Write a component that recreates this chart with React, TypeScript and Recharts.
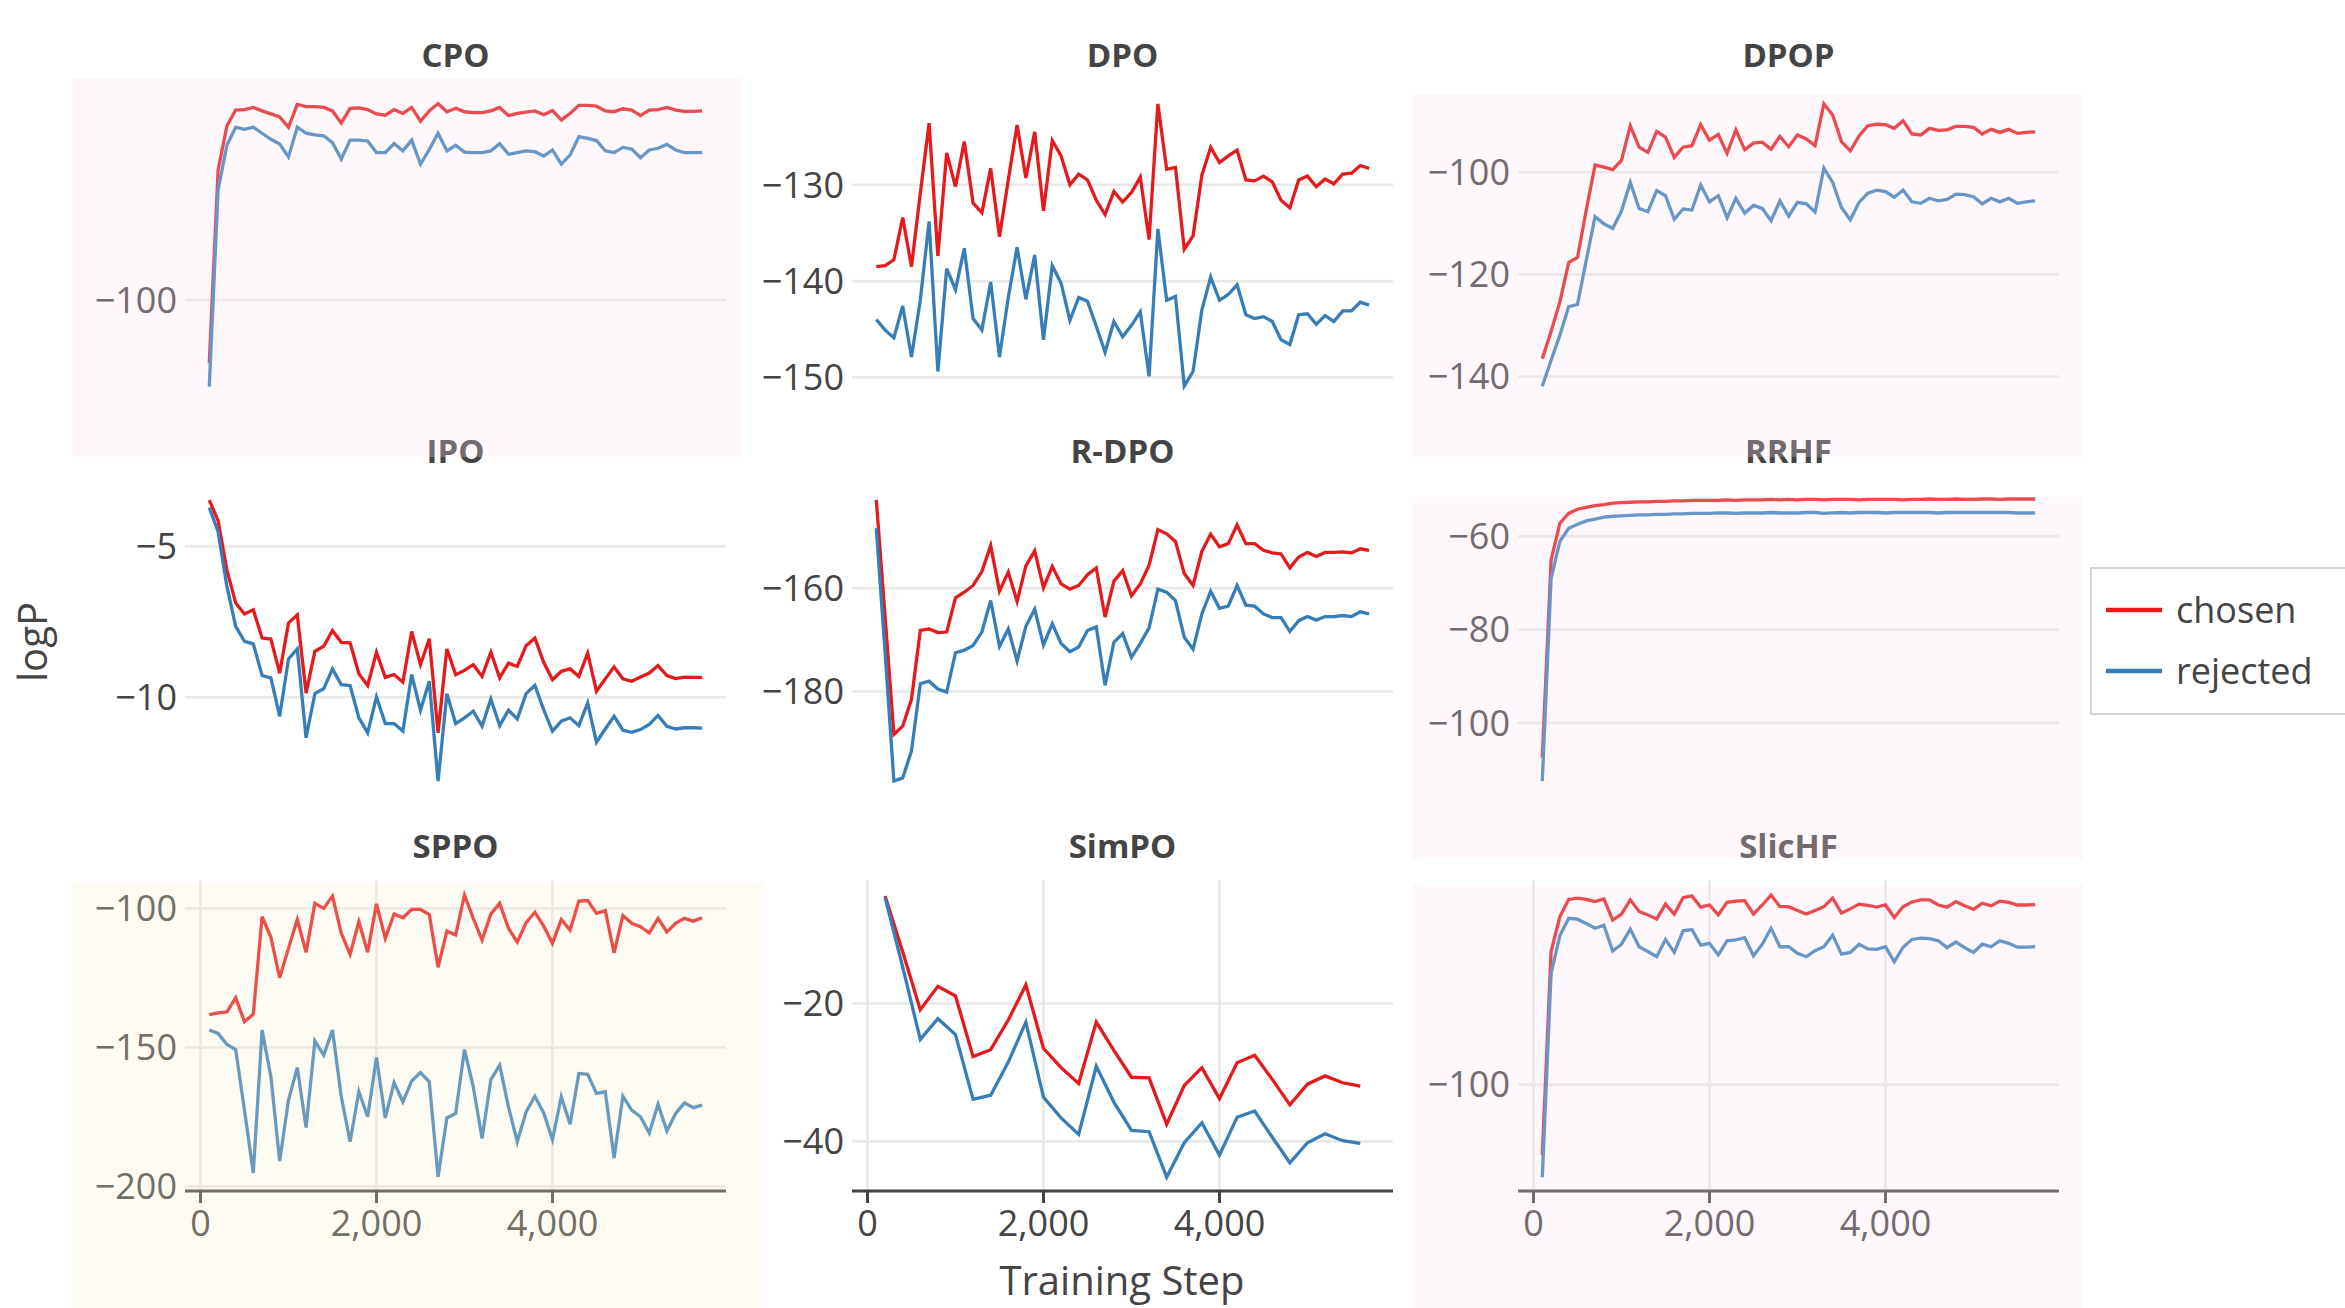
import React from 'react';
import { LineChart, Line, XAxis, YAxis, CartesianGrid } from 'recharts';

// ---------- data ----------
const steps = [100, 200, 300, 400, 500, 600, 700, 800, 900, 1000, 1100, 1200, 1300, 1400, 1500, 1600, 1700, 1800, 1900, 2000, 2100, 2200, 2300, 2400, 2500, 2600, 2700, 2800, 2900, 3000, 3100, 3200, 3300, 3400, 3500, 3600, 3700, 3800, 3900, 4000, 4100, 4200, 4300, 4400, 4500, 4600, 4700, 4800, 4900, 5000, 5100, 5200, 5300, 5400, 5500, 5600, 5700];
const simpoSteps = [200, 400, 600, 800, 1000, 1200, 1400, 1600, 1800, 2000, 2200, 2400, 2600, 2800, 3000, 3200, 3400, 3600, 3800, 4000, 4200, 4400, 4600, 4800, 5000, 5200, 5400, 5600];

const cpoChosen = [-114.7, -69.8, -59.5, -55.8, -55.7, -55.2, -56.0, -56.7, -57.4, -59.8, -54.5, -55.0, -55.0, -55.2, -56.0, -58.8, -55.4, -55.3, -55.7, -56.7, -57.0, -55.7, -56.6, -55.2, -58.4, -56.0, -54.3, -56.2, -55.4, -56.2, -56.4, -56.4, -56.0, -55.2, -57.1, -56.6, -56.3, -56.0, -56.9, -55.9, -58.1, -56.6, -54.7, -54.7, -54.9, -56.0, -56.2, -55.5, -55.8, -57.1, -55.8, -55.7, -55.2, -55.8, -56.1, -56.1, -56.0];
const cpoRejected = [-120.2, -74.4, -64.0, -59.8, -60.3, -59.8, -61.2, -62.6, -63.7, -66.7, -59.8, -61.2, -61.6, -61.8, -63.4, -67.2, -62.8, -62.8, -63.0, -65.7, -65.7, -63.6, -65.3, -62.8, -68.4, -65.0, -61.2, -65.3, -64.0, -65.6, -65.7, -65.7, -65.3, -63.6, -66.1, -65.7, -65.3, -65.5, -66.5, -65.1, -68.4, -66.3, -62.0, -62.4, -62.9, -65.3, -65.7, -64.5, -64.9, -66.9, -65.1, -64.7, -63.8, -65.1, -65.7, -65.7, -65.7];

const dpoChosen = [-138.5, -138.4, -137.8, -133.4, -138.5, -130.9, -123.6, -137.4, -126.7, -130.2, -125.5, -131.9, -132.9, -128.3, -135.4, -129.5, -123.8, -129.3, -124.5, -132.7, -125.4, -127.0, -130.0, -128.9, -129.5, -131.6, -133.1, -130.7, -131.8, -130.8, -129.2, -135.7, -121.6, -128.4, -128.2, -136.7, -135.3, -129.0, -126.1, -127.7, -127.0, -126.4, -129.5, -129.6, -129.1, -129.7, -131.6, -132.4, -129.5, -129.1, -130.2, -129.4, -129.9, -128.9, -128.8, -128.0, -128.3];
const dpoRejected = [-144.0, -145.1, -145.9, -142.6, -147.9, -142.0, -133.8, -149.4, -138.7, -140.9, -136.6, -143.9, -145.1, -140.1, -147.9, -141.7, -136.5, -141.9, -137.3, -146.1, -138.4, -140.2, -144.1, -141.7, -142.1, -144.7, -147.4, -144.2, -145.8, -144.6, -143.2, -149.9, -134.6, -142.0, -141.6, -150.9, -149.4, -143.0, -139.6, -142.0, -141.4, -140.4, -143.5, -143.9, -143.7, -144.2, -146.1, -146.6, -143.5, -143.4, -144.5, -143.6, -144.2, -143.1, -143.1, -142.2, -142.5];

const dpopChosen = [-136.5, -131.2, -125.4, -117.7, -116.7, -107.4, -98.6, -99.0, -99.5, -97.7, -90.9, -95.1, -96.1, -92.0, -93.1, -97.1, -95.1, -94.8, -90.7, -93.7, -92.6, -96.3, -91.7, -95.6, -94.3, -94.1, -95.5, -93.0, -95.0, -92.7, -93.5, -94.8, -86.6, -88.8, -94.0, -95.8, -92.9, -90.9, -90.6, -90.7, -91.4, -89.9, -92.5, -92.7, -91.4, -91.8, -91.7, -91.0, -91.0, -91.2, -92.5, -91.6, -92.2, -91.6, -92.4, -92.2, -92.1];
const dpopRejected = [-141.9, -136.8, -131.9, -126.3, -125.9, -117.2, -108.7, -110.1, -111.0, -107.6, -102.0, -107.1, -107.7, -103.6, -104.6, -109.2, -107.2, -107.4, -102.5, -105.8, -104.6, -108.9, -105.1, -108.0, -106.5, -107.1, -109.5, -105.6, -108.6, -105.9, -106.2, -107.8, -99.2, -102.0, -106.9, -109.3, -105.9, -104.1, -103.5, -103.8, -104.9, -103.5, -105.8, -106.1, -105.1, -105.6, -105.3, -104.3, -104.4, -104.8, -106.2, -105.1, -105.8, -105.1, -106.1, -105.8, -105.6];

const ipoChosen = [-3.47, -4.15, -5.78, -6.88, -7.24, -7.10, -8.04, -8.07, -9.20, -7.54, -7.27, -9.86, -8.48, -8.31, -7.79, -8.18, -8.20, -9.22, -9.61, -8.51, -9.34, -9.25, -9.50, -7.82, -8.92, -8.06, -11.18, -8.40, -9.25, -9.11, -8.92, -9.31, -8.51, -9.36, -8.87, -8.98, -8.29, -8.04, -8.84, -9.42, -9.14, -9.06, -9.31, -8.54, -9.80, -9.39, -9.00, -9.39, -9.47, -9.33, -9.20, -8.95, -9.28, -9.38, -9.33, -9.34, -9.34];
const ipoRejected = [-3.72, -4.52, -6.33, -7.65, -8.15, -8.23, -9.28, -9.36, -10.63, -8.73, -8.40, -11.34, -9.88, -9.72, -9.06, -9.58, -9.61, -10.68, -11.18, -9.99, -10.87, -10.87, -11.12, -9.25, -10.43, -9.47, -12.78, -9.88, -10.87, -10.68, -10.46, -10.96, -10.06, -10.94, -10.43, -10.72, -9.88, -9.61, -10.41, -11.12, -10.79, -10.68, -10.94, -10.19, -11.49, -11.05, -10.63, -11.09, -11.16, -11.07, -10.90, -10.60, -10.96, -11.05, -11.01, -11.01, -11.02];

const rdpoChosen = [-142.96, -165.5, -188.3, -186.7, -181.5, -168.2, -167.9, -168.6, -168.5, -161.9, -160.8, -159.5, -156.8, -151.8, -160.6, -156.9, -162.6, -155.7, -152.8, -159.9, -155.8, -159.2, -160.2, -159.5, -157.4, -156.1, -165.6, -158.7, -156.6, -161.5, -159.2, -155.6, -148.7, -149.5, -151.0, -157.2, -159.5, -152.9, -149.6, -152.0, -151.4, -147.8, -151.4, -151.4, -152.7, -153.2, -153.4, -156.1, -154.0, -153.1, -153.9, -153.1, -153.1, -153.0, -153.2, -152.4, -152.7];
const rdpoRejected = [-148.4, -172.5, -197.3, -196.7, -191.5, -178.5, -178.0, -179.5, -180.1, -172.5, -172.0, -171.1, -168.5, -162.4, -171.3, -167.9, -174.1, -167.4, -164.1, -171.0, -166.9, -170.7, -172.3, -171.4, -168.2, -167.5, -178.8, -170.5, -168.8, -173.4, -170.7, -167.7, -160.2, -160.8, -162.4, -169.5, -171.8, -165.0, -160.6, -163.9, -163.5, -159.5, -163.3, -163.5, -165.0, -165.7, -165.7, -168.4, -166.3, -165.5, -166.2, -165.5, -165.5, -165.3, -165.5, -164.6, -165.0];

const rrhfChosen = [-107.5, -65.1, -57.2, -55.1, -54.2, -53.8, -53.4, -53.2, -52.9, -52.8, -52.7, -52.6, -52.6, -52.5, -52.5, -52.4, -52.4, -52.3, -52.3, -52.3, -52.3, -52.2, -52.3, -52.2, -52.2, -52.2, -52.1, -52.2, -52.1, -52.2, -52.1, -52.1, -52.2, -52.1, -52.1, -52.1, -52.2, -52.1, -52.1, -52.1, -52.1, -52.2, -52.1, -52.1, -52.0, -52.1, -52.1, -52.0, -52.1, -52.1, -52.0, -52.0, -52.1, -52.0, -52.0, -52.0, -52.0];
const rrhfRejected = [-112.5, -69.0, -61.1, -58.3, -57.4, -56.7, -56.3, -55.9, -55.7, -55.6, -55.5, -55.4, -55.4, -55.3, -55.3, -55.2, -55.2, -55.1, -55.1, -55.1, -55.0, -55.0, -55.1, -55.0, -55.0, -55.0, -54.9, -55.0, -55.0, -55.0, -54.9, -54.9, -55.1, -55.0, -54.9, -55.0, -54.9, -54.9, -54.9, -55.0, -54.9, -54.9, -54.9, -54.9, -54.9, -55.0, -54.9, -54.9, -54.9, -54.9, -54.9, -54.9, -54.9, -54.9, -55.0, -55.0, -55.0];

const sppoChosen = [-138.2, -137.6, -137.3, -132.2, -140.8, -138.1, -103.0, -110.4, -125.0, -114.4, -104.0, -115.8, -98.2, -100.0, -95.6, -109.0, -116.6, -104.8, -115.8, -98.4, -110.8, -102.0, -103.4, -100.4, -100.4, -102.2, -121.2, -108.2, -109.6, -95.2, -103.6, -111.4, -102.0, -98.2, -107.2, -112.1, -105.2, -101.4, -106.4, -112.6, -104.0, -107.8, -97.4, -97.2, -101.8, -100.8, -116.0, -102.6, -105.4, -106.6, -108.8, -103.6, -108.5, -105.4, -103.6, -104.6, -103.4];
const sppoRejected = [-143.8, -145.0, -149.0, -150.8, -172.6, -195.2, -143.8, -160.6, -190.9, -169.0, -157.3, -178.9, -147.7, -152.8, -143.8, -167.8, -184.0, -166.0, -175.0, -153.7, -175.4, -162.7, -169.6, -162.1, -159.1, -162.4, -196.6, -175.4, -173.8, -150.8, -164.2, -182.8, -161.6, -156.4, -171.4, -184.0, -173.3, -167.6, -173.6, -183.2, -167.8, -177.7, -159.4, -159.7, -166.6, -166.0, -189.8, -167.6, -172.6, -175.0, -180.8, -170.5, -180.1, -173.8, -170.0, -171.7, -170.8];

const simpoChosen = [-4.41, -12.5, -20.9, -17.5, -18.9, -27.7, -26.7, -22.4, -17.3, -26.5, -29.3, -31.6, -22.7, -26.8, -30.7, -30.8, -37.5, -31.9, -29.3, -33.8, -28.6, -27.5, -31.0, -34.7, -31.7, -30.5, -31.5, -32.0];
const simpoRejected = [-4.6, -14.7, -25.2, -22.2, -24.5, -33.9, -33.3, -28.5, -22.7, -33.6, -36.6, -39.0, -29.1, -34.3, -38.4, -38.6, -45.2, -40.2, -37.3, -42.0, -36.5, -35.6, -39.4, -43.1, -40.2, -38.9, -39.9, -40.3];

const slichfChosen = [-116.4, -69.1, -61.0, -57.0, -56.7, -57.0, -57.5, -56.9, -61.8, -60.4, -57.1, -59.8, -60.6, -61.6, -58.1, -60.4, -56.6, -56.2, -58.8, -58.3, -60.6, -57.7, -57.4, -57.3, -60.4, -58.3, -56.0, -58.7, -58.7, -59.6, -60.4, -59.6, -58.7, -56.7, -60.2, -59.2, -58.1, -58.4, -58.8, -58.3, -61.2, -58.7, -57.6, -57.1, -57.1, -58.3, -58.8, -57.5, -58.5, -59.3, -57.9, -58.5, -57.4, -57.7, -58.3, -58.3, -58.2];
const slichfRejected = [-121.5, -74.2, -65.4, -61.4, -61.6, -62.6, -63.7, -63.0, -69.0, -67.4, -63.9, -68.0, -69.1, -70.3, -66.3, -69.3, -64.3, -64.0, -67.6, -67.2, -69.9, -66.6, -66.4, -65.9, -70.1, -67.4, -63.7, -68.0, -68.0, -69.5, -70.3, -68.9, -68.0, -65.3, -69.7, -69.3, -67.4, -68.5, -68.6, -68.0, -71.5, -68.1, -66.3, -66.0, -66.1, -66.6, -68.2, -66.9, -68.2, -69.3, -67.4, -68.0, -66.6, -67.2, -68.1, -68.1, -68.0];

const xTicks = [0, 2000, 4000];
const seriesNames = ['chosen', 'rejected'];

// ---------- layout / style ----------
const FONT = "'Open Sans', 'Noto Sans', 'DejaVu Sans', sans-serif";
const RED = '#e41a1c';
const BLUE = '#377eb8';
const TEXT = '#444444';
const GRID = '#e9e9e9';
const COL_LEFT = [185, 852, 1518];
const ROW_TOP = [89, 485, 880];
const PLOT_W = 541;
const PLOT_H = 311;
const Y_AXIS_W = 140;
const X_AXIS_H = 70;
const X_DOMAIN = [-176, 5972];

type Panel = {
  title: string;
  row: number;
  col: number;
  steps: number[];
  chosen: number[];
  rejected: number[];
  domain: [number, number];
  ticks: number[];
};

const panels: Panel[] = [
  { title: 'CPO', row: 0, col: 0, steps, chosen: cpoChosen, rejected: cpoRejected, domain: [-123.3, -50.9], ticks: [-100] },
  { title: 'DPO', row: 0, col: 1, steps, chosen: dpoChosen, rejected: dpoRejected, domain: [-152.36, -120.05], ticks: [-150, -140, -130] },
  { title: 'DPOP', row: 0, col: 2, steps, chosen: dpopChosen, rejected: dpopRejected, domain: [-144.6, -83.7], ticks: [-140, -120, -100] },
  { title: 'IPO', row: 1, col: 0, steps, chosen: ipoChosen, rejected: ipoRejected, domain: [-13.27, -2.97], ticks: [-10, -5] },
  { title: 'R-DPO', row: 1, col: 1, steps, chosen: rdpoChosen, rejected: rdpoRejected, domain: [-200.2, -140.07], ticks: [-180, -160] },
  { title: 'RRHF', row: 1, col: 2, steps, chosen: rrhfChosen, rejected: rrhfRejected, domain: [-115.7, -49.0], ticks: [-100, -80, -60] },
  { title: 'SPPO', row: 2, col: 0, steps, chosen: sppoChosen, rejected: sppoRejected, domain: [-201.7, -89.8], ticks: [-200, -150, -100] },
  { title: 'SimPO', row: 2, col: 1, steps: simpoSteps, chosen: simpoChosen, rejected: simpoRejected, domain: [-47.2, -2.08], ticks: [-40, -20] },
  { title: 'SlicHF', row: 2, col: 2, steps, chosen: slichfChosen, rejected: slichfRejected, domain: [-124.7, -52.5], ticks: [-100] },
];

// translucent panel overlays (drawn over the plots, as in the reference)
const overlays = [
  { x: 72, y: 78, w: 670, h: 379, color: 'rgba(250,225,240,0.25)' },
  { x: 1412, y: 94, w: 670, h: 363, color: 'rgba(250,225,240,0.25)' },
  { x: 1412, y: 497, w: 671, h: 362, color: 'rgba(250,225,240,0.25)' },
  { x: 71, y: 883, w: 692, h: 425, color: 'rgba(250,238,205,0.25)' },
  { x: 1413, y: 885, w: 670, h: 423, color: 'rgba(250,225,240,0.25)' },
];

const fmtY = (v: number) => (v < 0 ? '\u2212' + Math.abs(v) : String(v));
const fmtX = (v: number) => v.toLocaleString('en-US');

function PanelChart({ p }: { p: Panel }) {
  const data = p.steps.map((s, i) => ({ step: s, chosen: p.chosen[i], rejected: p.rejected[i] }));
  const showX = p.row === 2;
  const tickStyle = { fill: TEXT, fontSize: 36, fontFamily: FONT };
  return (
    <div style={{ position: 'absolute', left: COL_LEFT[p.col] - Y_AXIS_W, top: ROW_TOP[p.row] }}>
      <LineChart
        width={PLOT_W + Y_AXIS_W}
        height={PLOT_H + X_AXIS_H}
        data={data}
        margin={{ top: 0, right: 0, bottom: 0, left: 0 }}
        style={{ fontFamily: FONT }}
      >
        <CartesianGrid
          stroke={GRID}
          strokeWidth={2.7}
          horizontal
          vertical
          horizontalValues={p.ticks}
          verticalValues={xTicks}
          syncWithTicks={false}
        />
        <XAxis
          dataKey="step"
          type="number"
          domain={X_DOMAIN}
          ticks={xTicks}
          allowDataOverflow
          interval={0}
          height={X_AXIS_H}
          tickFormatter={fmtX}
          axisLine={showX ? { stroke: TEXT, strokeWidth: 3 } : false}
          tickLine={showX ? { stroke: TEXT, strokeWidth: 3 } : false}
          tick={showX ? tickStyle : false}
          tickSize={12}
          tickMargin={7}
        />
        <YAxis
          type="number"
          domain={p.domain}
          ticks={p.ticks}
          allowDataOverflow
          interval={0}
          width={Y_AXIS_W}
          axisLine={false}
          tickLine={false}
          tick={tickStyle}
          tickFormatter={fmtY}
        />
        <Line dataKey="chosen" stroke={RED} strokeWidth={3.3} dot={false} isAnimationActive={false} />
        <Line dataKey="rejected" stroke={BLUE} strokeWidth={3.3} dot={false} isAnimationActive={false} />
      </LineChart>
    </div>
  );
}

export default function App() {
  return (
    <div
      style={{
        position: 'absolute',
        left: 0,
        top: 0,
        width: 2345,
        height: 1308,
        overflow: 'hidden',
        background: '#ffffff',
        fontFamily: FONT,
      }}
    >
      {panels.map((p) => (
        <PanelChart key={p.title} p={p} />
      ))}
      <svg width={2345} height={1308} style={{ position: 'absolute', left: 0, top: 0, pointerEvents: 'none' }}>
        {panels.map((p) => (
          <text
            key={p.title}
            x={COL_LEFT[p.col] + PLOT_W / 2}
            y={ROW_TOP[p.row] - 22}
            textAnchor="middle"
            fontFamily={FONT}
            fontSize={33}
            fontWeight={700}
            fill={TEXT}
          >
            {p.title}
          </text>
        ))}
        <text x={47} y={642} transform="rotate(-90 47 642)" textAnchor="middle" fontFamily={FONT} fontSize={40} fill={TEXT}>
          logP
        </text>
        <text x={1122} y={1295} textAnchor="middle" fontFamily={FONT} fontSize={40} fill={TEXT}>
          Training Step
        </text>
      </svg>
      {overlays.map((o, i) => (
        <div
          key={i}
          style={{ position: 'absolute', left: o.x, top: o.y, width: o.w, height: o.h, background: o.color, pointerEvents: 'none' }}
        />
      ))}
      <svg width={2345} height={1308} style={{ position: 'absolute', left: 0, top: 0, pointerEvents: 'none' }}>
        <rect x={2091} y={568} width={300} height={146} fill="#ffffff" stroke="#d4d4d4" strokeWidth={2} />
        <line x1={2106} x2={2162} y1={610} y2={610} stroke={RED} strokeWidth={4.5} />
        <text x={2176} y={623} fontFamily={FONT} fontSize={36} fill={TEXT}>
          {seriesNames[0]}
        </text>
        <line x1={2106} x2={2162} y1={671} y2={671} stroke={BLUE} strokeWidth={4.5} />
        <text x={2176} y={684} fontFamily={FONT} fontSize={36} fill={TEXT}>
          {seriesNames[1]}
        </text>
      </svg>
    </div>
  );
}
